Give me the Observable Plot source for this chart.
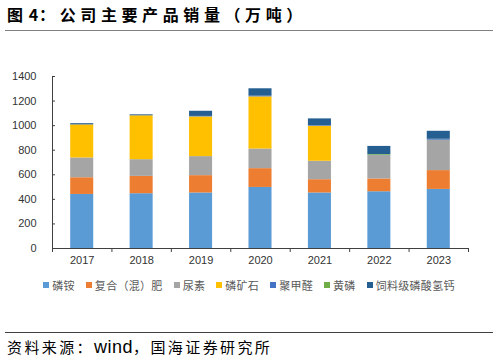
<!DOCTYPE html>
<html><head><meta charset="utf-8">
<script src="https://cdn.jsdelivr.net/npm/d3@7"></script>
<script src="https://cdn.jsdelivr.net/npm/@observablehq/plot@0.6"></script>
<style>
body{margin:0;background:#fff;}
#wrap{position:relative;width:498px;height:361px;overflow:hidden;font-family:"Noto Sans CJK SC",sans-serif;background:#fff;}
#title{position:absolute;left:7px;top:4px;font-size:16px;font-weight:bold;letter-spacing:4.6px;color:#000;white-space:nowrap;line-height:20px;}
#title .n{letter-spacing:1px;}
#topline{position:absolute;left:5px;width:488px;top:30px;height:0;border-top:1.5px solid #808080;}
#chart{position:absolute;left:0;top:60px;}
#legend{position:absolute;left:0;width:498px;top:277px;display:flex;justify-content:center;align-items:center;font-size:11px;color:#595959;letter-spacing:0.3px;white-space:nowrap;}
#legend .it{display:flex;align-items:center;margin:0 5.5px;}
#legend .sw{width:6px;height:6px;margin-right:3px;}
#botline{position:absolute;left:5px;width:488px;top:332px;height:0;border-top:1.5px solid #404040;}
#caption{position:absolute;left:7px;top:336px;font-size:15px;letter-spacing:2.4px;color:#000;white-space:nowrap;line-height:22px;}
#caption .w{font-family:"Liberation Sans",Arial,sans-serif;font-size:18px;letter-spacing:0.5px;}
</style>
</head><body>
<div id="wrap">
  <div id="title"><span class="n">图 4</span>：公司主要产品销量（万吨）</div>
  <div id="topline"></div>
  <div id="chart"></div>
  <div id="legend"></div>
  <div id="botline"></div>
  <div id="caption">资料来源：<span class="w">wind</span>，国海证券研究所</div>
</div>
<script>
const years = [2017, 2018, 2019, 2020, 2021, 2022, 2023];
const seriesNames = ["磷铵", "复合（混）肥", "尿素", "磷矿石", "聚甲醛", "黄磷", "饲料级磷酸氢钙"];
const seriesColors = ["#5B9BD5", "#ED7D31", "#A5A5A5", "#FFC000", "#4472C4", "#70AD47", "#255E91"];
const linAn   = [440, 446, 452, 497, 452, 462, 481];
const fuhe    = [136, 141, 141, 153, 108, 104, 153];
const niaosu  = [161, 136, 155, 160, 150, 190, 247];
const linkuang= [269, 357, 323, 424, 285, 0, 0];
const jujiaquan=[0, 0, 4, 6, 5, 3, 6];
const huanglin= [0, 0, 0, 0, 0, 6, 2];
const siliao  = [10, 8, 42, 60, 55, 66, 65];
const yTicks = [0, 200, 400, 600, 800, 1000, 1200, 1400];

const seriesValues = [linAn, fuhe, niaosu, linkuang, jujiaquan, huanglin, siliao];
const rows = [];
seriesNames.forEach((s, i) => years.forEach((y, j) => rows.push({series: s, year: y, value: seriesValues[i][j]})));
const bounds = [years[0] - 0.5, ...years.map(y => y + 0.5)];

const chart = Plot.plot({
  width: 498, height: 213,
  marginTop: 16, marginBottom: 25, marginLeft: 52, marginRight: 30,
  style: {fontFamily: "'Liberation Sans', Arial, sans-serif", fontSize: "11px", color: "#333", background: "#fff"},
  x: {type: "linear", domain: [bounds[0], bounds[bounds.length - 1]]},
  y: {domain: [0, 1400]},
  color: {domain: seriesNames, range: seriesColors},
  marks: [
    Plot.rectY(rows, Plot.stackY({
      x1: d => d.year - 0.5, x2: d => d.year + 0.5, y: "value",
      fill: "series", z: "series", order: seriesNames,
      insetLeft: 18.2, insetRight: 18.2
    })),
    Plot.axisY({ticks: yTicks, tickSize: 0, tickPadding: 16, tickFormat: d => String(d), label: null}),
    Plot.axisY({ticks: yTicks, tickSize: 3, dx: 3, tickFormat: () => "", stroke: "#404040", label: null}),
    Plot.axisX({ticks: years, tickSize: 0, tickPadding: 8, tickFormat: d => String(d), label: null}),
    Plot.axisX({ticks: bounds, tickSize: 4, tickFormat: () => "", stroke: "#404040", label: null}),
    Plot.ruleX([bounds[0]], {stroke: "#404040"}),
    Plot.ruleY([0], {stroke: "#404040"})
  ]
});
document.getElementById("chart").appendChild(chart);

const legend = document.getElementById("legend");
seriesNames.forEach((s, i) => {
  const it = document.createElement("div");
  it.className = "it";
  const sw = document.createElement("div");
  sw.className = "sw";
  sw.style.background = seriesColors[i];
  const lb = document.createElement("span");
  lb.textContent = s;
  it.appendChild(sw); it.appendChild(lb);
  legend.appendChild(it);
});
</script>
</body></html>
